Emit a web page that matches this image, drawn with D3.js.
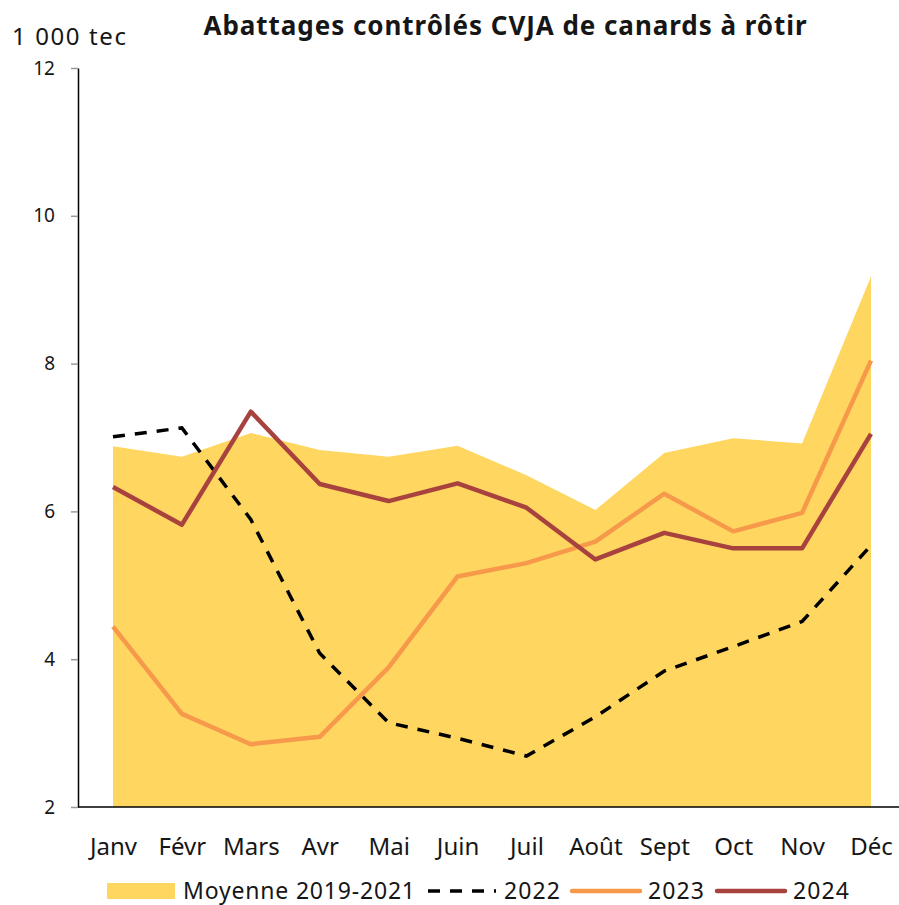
<!DOCTYPE html>
<html>
<head>
<meta charset="utf-8">
<script src="https://cdn.jsdelivr.net/npm/d3@7"></script>
<style>
  html, body { margin: 0; padding: 0; background: #fff; }
  svg { display: block; }
  text { font-family: "Noto Sans", Lato, sans-serif; fill: #161616; }
</style>
</head>
<body>
<svg id="chart" width="899" height="905"></svg>
<script>
const months = ["Janv","Févr","Mars","Avr","Mai","Juin","Juil","Août","Sept","Oct","Nov","Déc"];
const moyenne = [6.88, 6.74, 7.06, 6.83, 6.74, 6.89, 6.49, 6.02, 6.79, 6.99, 6.92, 9.18];
const y2022   = [7.01, 7.13, 5.89, 4.08, 3.14, 2.93, 2.69, 3.22, 3.84, 4.17, 4.51, 5.54];
const y2023   = [4.44, 3.26, 2.85, 2.95, 3.89, 5.12, 5.30, 5.59, 6.24, 5.73, 5.98, 8.04];
const y2024   = [6.33, 5.82, 7.35, 6.37, 6.14, 6.38, 6.05, 5.35, 5.71, 5.50, 5.50, 7.05];
const yTicks  = [2, 4, 6, 8, 10, 12];
const title = "Abattages contrôlés CVJA de canards à rôtir";
const unit = "1 000 tec";
const legendLabels = ["Moyenne 2019-2021", "2022", "2023", "2024"];

const colors = { moy: "#FED660", c2022: "#000000", c2023: "#F7994A", c2024: "#A8423F" };
const FONT = "'Noto Sans', Lato, sans-serif";

const svg = d3.select("#chart");
const x = d3.scalePoint().domain(months).range([113, 871]);
const y = d3.scaleLinear().domain([2, 12]).range([807, 68]);

// Title & unit
const tt = svg.append("text").attr("x", 505).attr("y", 35).attr("text-anchor", "middle")
  .style("font-weight", "bold").style("font-size", "26px").text(title);
tt.attr("textLength", 603).attr("lengthAdjust", "spacing");
svg.append("text").attr("x", 12).attr("y", 45).style("font-size", "24px")
  .attr("textLength", 114).attr("lengthAdjust", "spacing").text(unit);

// Area
const area = d3.area().x((d, i) => x(months[i])).y0(y(2)).y1(d => y(d));
svg.append("path").datum(moyenne).attr("d", area).attr("fill", colors.moy);

// Lines
const line = d3.line().x((d, i) => x(months[i])).y(d => y(d));
svg.append("path").datum(y2022).attr("d", line).attr("fill", "none")
  .attr("stroke", colors.c2022).attr("stroke-width", 3.5).attr("stroke-dasharray", "12,10");
svg.append("path").datum(y2023).attr("d", line).attr("fill", "none")
  .attr("stroke", colors.c2023).attr("stroke-width", 4.5).attr("stroke-linejoin", "round");
svg.append("path").datum(y2024).attr("d", line).attr("fill", "none")
  .attr("stroke", colors.c2024).attr("stroke-width", 4.5).attr("stroke-linejoin", "round");

// Y axis
const yAxis = svg.append("g").attr("transform", "translate(78,0)")
  .call(d3.axisLeft(y).tickValues(yTicks).tickSize(7).tickSizeOuter(0).tickPadding(16));
yAxis.select(".domain").attr("stroke", "#000").attr("stroke-width", 1.5);
yAxis.selectAll(".tick line").attr("stroke", "#999").attr("stroke-width", 1.5);
yAxis.selectAll(".tick text").style("font-size", "19px").style("font-family", FONT).attr("fill", "#161616");

// X axis
const xAxis = svg.append("g").attr("transform", "translate(0,807)")
  .call(d3.axisBottom(x).tickSize(0).tickPadding(31));
xAxis.select(".domain").remove();
svg.append("line").attr("x1", 78).attr("x2", 899).attr("y1", 807).attr("y2", 807)
  .attr("stroke", "#000").attr("stroke-width", 1.5);
xAxis.selectAll(".tick text").style("font-size", "24px").style("font-family", FONT).attr("fill", "#161616");

// Legend (symbol start positions and text widths are layout)
const legendX = [107, 428, 572, 717];
const legendTextW = [232, 56, 56, 56];
const lg = svg.append("g");
const ly = 891;
legendLabels.forEach((lab, i) => {
  const lx = legendX[i];
  if (i === 0) {
    lg.append("rect").attr("x", lx).attr("y", ly - 8).attr("width", 68).attr("height", 16).attr("fill", colors.moy);
  } else {
    const c = [colors.c2022, colors.c2023, colors.c2024][i - 1];
    const l = lg.append("line").attr("x1", lx).attr("x2", lx + 68).attr("y1", ly).attr("y2", ly)
      .attr("stroke", c).attr("stroke-width", i === 1 ? 3.5 : 4.5).attr("stroke-linecap", i === 1 ? "butt" : "round");
    if (i === 1) l.attr("stroke-dasharray", "12,10");
  }
  lg.append("text").attr("x", lx + 76).attr("y", ly + 8).style("font-size", "23px")
    .attr("textLength", legendTextW[i]).attr("lengthAdjust", "spacing").text(lab);
});
</script>
</body>
</html>
